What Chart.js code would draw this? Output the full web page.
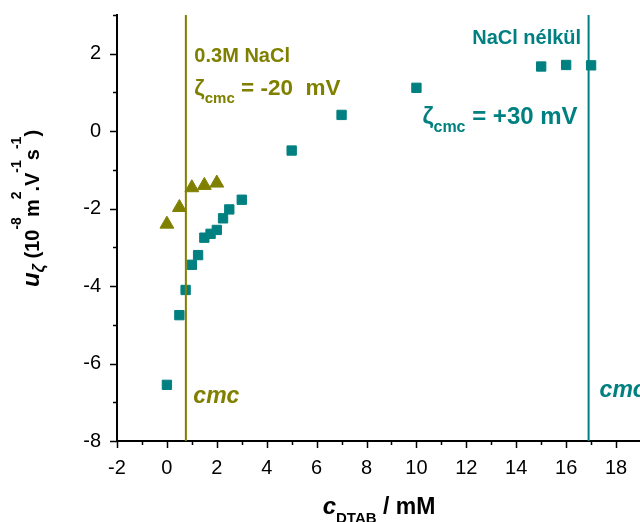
<!DOCTYPE html>
<html>
<head>
<meta charset="utf-8">
<script src="https://cdn.jsdelivr.net/npm/chart.js@4/dist/chart.umd.min.js"></script>
<style>
  html, body { margin: 0; padding: 0; overflow: hidden; background: #fff; width: 640px; height: 522px; }
  #wrap { width: 650px; height: 522px; }
</style>
</head>
<body>
<div id="wrap"><canvas id="c" width="650" height="522"></canvas></div>
<script>
// Electrophoretic mobility of particles vs. DTAB concentration
const concNoSalt     = [0, 0.5, 0.75, 1, 1.25, 1.5, 1.75, 2, 2.25, 2.5, 3, 5, 7, 10, 15, 16, 17];
const mobilityNoSalt = [-6.55, -4.75, -4.1, -3.45, -3.2, -2.75, -2.65, -2.55, -2.25, -2.02, -1.77, -0.5, 0.42, 1.12, 1.67, 1.71, 1.70];
const concSalt       = [0, 0.5, 1, 1.5, 2];
const mobilitySalt   = [-2.4, -1.97, -1.46, -1.40, -1.34];
const cmcSalt   = 0.76;   // mM, 0.3 M NaCl
const cmcNoSalt = 16.9;   // mM, without NaCl
const xTickLabels = [-2, 0, 2, 4, 6, 8, 10, 12, 14, 16, 18];
const yTickLabels = [-8, -6, -4, -2, 0, 2];

const TEAL = '#008080';
const OLIVE = '#808000';
const FONT = '"Liberation Sans", Arial, Helvetica, sans-serif';

function toPoints(xs, ys) { return xs.map((x, i) => ({ x: x, y: ys[i] })); }

function drawRich(ctx, x, y, segs, align) {
  let total = 0;
  for (const s of segs) { ctx.font = s.font; total += ctx.measureText(s.text).width; }
  let cx = align === 'right' ? x - total : align === 'center' ? x - total / 2 : x;
  ctx.textAlign = 'left';
  ctx.textBaseline = 'alphabetic';
  for (const s of segs) {
    ctx.font = s.font;
    ctx.fillText(s.text, cx, y + (s.dy || 0));
    cx += ctx.measureText(s.text).width;
  }
}

const decorations = {
  id: 'decorations',
  afterDraw(chart) {
    const ctx = chart.ctx;
    const xs = chart.scales.x, ys = chart.scales.y;
    const area = chart.chartArea;
    ctx.save();

    // tick marks, long on labelled values, short in between
    ctx.strokeStyle = '#000';
    ctx.lineWidth = 1.5;
    ctx.beginPath();
    for (let v = Math.ceil(xs.min); v <= xs.max; v++) {
      const px = Math.round(xs.getPixelForValue(v)) + 0.5;
      const len = xTickLabels.includes(v) ? 7 : 4;
      ctx.moveTo(px, area.bottom);
      ctx.lineTo(px, area.bottom + len);
    }
    for (let v = Math.ceil(ys.min); v <= ys.max; v++) {
      const py = Math.round(ys.getPixelForValue(v)) + 0.5;
      const len = yTickLabels.includes(v) ? 7 : 4;
      ctx.moveTo(area.left, py);
      ctx.lineTo(area.left - len, py);
    }
    ctx.stroke();

    const xo = xs.getPixelForValue(cmcSalt);
    const xt = xs.getPixelForValue(cmcNoSalt);

    // 0.3 M NaCl annotations
    ctx.fillStyle = OLIVE;
    drawRich(ctx, xo + 8.5, 61.5, [{ text: '0.3M NaCl', font: 'bold 20px ' + FONT }]);
    drawRich(ctx, xo + 8.5, 94.5, [
      { text: 'ζ', font: 'bold 22.5px ' + FONT },
      { text: 'cmc', font: 'bold 15px ' + FONT, dy: 8 },
      { text: ' = -20  mV', font: 'bold 22.5px ' + FONT }
    ]);
    drawRich(ctx, xo + 7.5, 403, [{ text: 'cmc', font: 'italic bold 23px ' + FONT }]);

    // annotations without salt
    ctx.fillStyle = TEAL;
    drawRich(ctx, xt - 7.5, 43.5, [{ text: 'NaCl nélkül', font: 'bold 20px ' + FONT }], 'right');
    drawRich(ctx, xt - 11, 123.5, [
      { text: 'ζ', font: 'bold 24px ' + FONT },
      { text: 'cmc', font: 'bold 16px ' + FONT, dy: 8 },
      { text: ' = +30 mV', font: 'bold 24px ' + FONT }
    ], 'right');
    drawRich(ctx, xt + 11, 397, [{ text: 'cmc', font: 'italic bold 23px ' + FONT }]);

    // axis titles
    ctx.fillStyle = '#000';
    drawRich(ctx, (area.left + area.right) / 2, 513.5, [
      { text: 'c', font: 'italic bold 24px ' + FONT },
      { text: 'DTAB', font: 'bold 15px ' + FONT, dy: 9 },
      { text: ' / mM', font: 'bold 23px ' + FONT }
    ], 'center');

    ctx.translate(38.5, 208.5);
    ctx.rotate(-Math.PI / 2);
    const sup = -18;
    drawRich(ctx, 0, 0, [
      { text: 'u', font: 'italic bold 24px ' + FONT },
      { text: 'ζ', font: 'italic bold 17px ' + FONT, dy: 5 },
      { text: ' (10', font: 'bold 20px ' + FONT },
      { text: '-8', font: 'bold 14px ' + FONT, dy: sup },
      { text: 'm', font: 'bold 20px ' + FONT },
      { text: '2', font: 'bold 14px ' + FONT, dy: sup },
      { text: '.V', font: 'bold 20px ' + FONT },
      { text: '-1', font: 'bold 14px ' + FONT, dy: sup },
      { text: 's', font: 'bold 20px ' + FONT },
      { text: '-1', font: 'bold 14px ' + FONT, dy: sup },
      { text: ')', font: 'bold 20px ' + FONT }
    ], 'center');

    ctx.restore();
  }
};

new Chart(document.getElementById('c'), {
  type: 'scatter',
  data: {
    datasets: [
      {
        type: 'line', label: 'cmc (0.3 M NaCl)',
        data: [{ x: cmcSalt, y: -8 }, { x: cmcSalt, y: 3 }],
        borderColor: OLIVE, borderWidth: 2, pointRadius: 0, showLine: true, fill: false
      },
      {
        type: 'line', label: 'cmc (NaCl nélkül)',
        data: [{ x: cmcNoSalt, y: -8 }, { x: cmcNoSalt, y: 3 }],
        borderColor: TEAL, borderWidth: 2, pointRadius: 0, showLine: true, fill: false
      },
      {
        label: '0.3M NaCl',
        data: toPoints(concSalt, mobilitySalt),
        pointStyle: 'triangle', pointRadius: 8,
        backgroundColor: OLIVE, borderColor: OLIVE, borderWidth: 1
      },
      {
        label: 'NaCl nélkül',
        data: toPoints(concNoSalt, mobilityNoSalt),
        pointStyle: 'rect', pointRadius: 6.6,
        backgroundColor: TEAL, borderColor: TEAL, borderWidth: 1
      }
    ]
  },
  options: {
    responsive: false,
    animation: false,
    layout: { padding: { top: 15, right: 8, left: 0, bottom: 0 } },
    plugins: { legend: { display: false }, tooltip: { enabled: false } },
    scales: {
      x: {
        type: 'linear', min: -2, max: 19,
        grid: { display: false },
        border: { display: true, color: '#000', width: 2 },
        ticks: {
          stepSize: 1, padding: 7, color: '#000', autoSkip: false, maxRotation: 0,
          font: { family: FONT, size: 20 },
          callback: v => xTickLabels.includes(v) ? String(v) : ''
        },
        afterFit: s => { s.height = 81; s.paddingLeft = 0; s.paddingRight = 0; }
      },
      y: {
        type: 'linear', min: -8, max: 3,
        grid: { display: false },
        border: { display: true, color: '#000', width: 2 },
        ticks: {
          stepSize: 1, padding: 8, color: '#000', autoSkip: false,
          font: { family: FONT, size: 20 },
          callback: v => yTickLabels.includes(v) ? String(v) : ''
        },
        afterFit: s => { s.width = 117; s.paddingTop = 0; s.paddingBottom = 0; }
      }
    }
  },
  plugins: [decorations]
});
</script>
</body>
</html>
